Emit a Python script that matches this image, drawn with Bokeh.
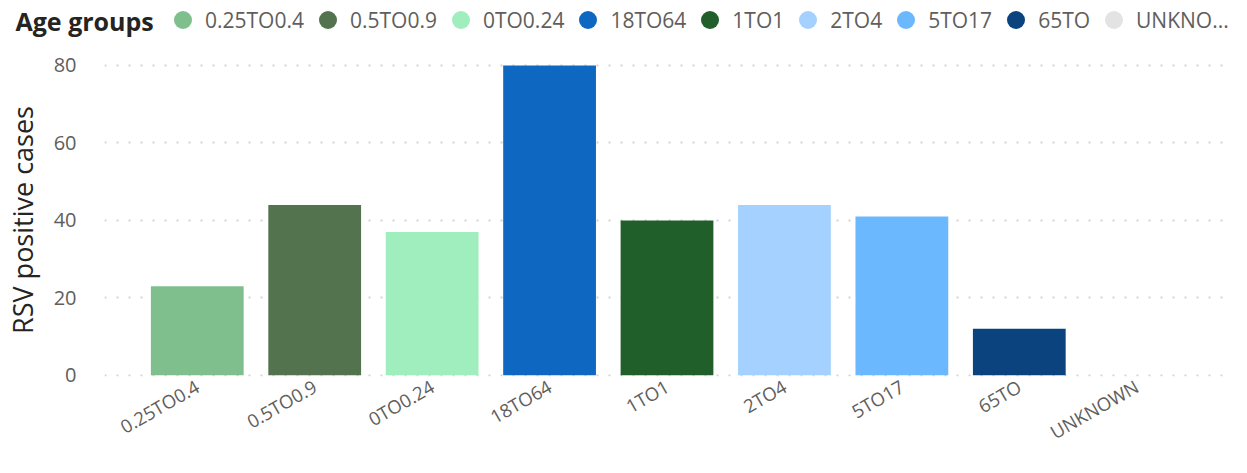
from bokeh.plotting import figure
from bokeh.layouts import column
from bokeh.models import FactorRange, Range1d, ColumnDataSource, Legend, LegendItem, Label
from bokeh.embed import file_html
from bokeh.resources import INLINE

categories = ["0.25TO0.4", "0.5TO0.9", "0TO0.24", "18TO64", "1TO1", "2TO4", "5TO17", "65TO", "UNKNOWN"]
legend_labels = ["0.25TO0.4", "0.5TO0.9", "0TO0.24", "18TO64", "1TO1", "2TO4", "5TO17", "65TO", "UNKNO..."]
cases = [23, 44, 37, 80, 40, 44, 41, 12, 0]
colors = ["#7FBF8E", "#52734E", "#A0EDBE", "#0E68C1", "#215F2A", "#A4D1FF", "#6CB8FF", "#0A437E", "#E3E3E3"]
y_ticks = [0, 20, 40, 60, 80]

FONT = "Open Sans"
GREY = "#605E5C"
DARK = "#252423"

source = ColumnDataSource(dict(cat=categories, val=cases, color=colors, lab=legend_labels))

# ---- legend strip ----
lg = figure(width=1231, height=40, x_range=FactorRange(*categories), y_range=Range1d(0, 100),
            min_border=0, x_axis_location=None, y_axis_location=None,
            output_backend="svg", toolbar_location=None)
lg.outline_line_color = None
lg.grid.grid_line_color = None
sc = lg.scatter(x="cat", y="val", size=0, line_width=0, fill_color="color", line_color="color", source=source)
items = [LegendItem(label=legend_labels[i], renderers=[sc], index=i) for i in range(len(categories))]
legend = Legend(items=items, orientation="horizontal", location=(160, -2),
                border_line_alpha=0, background_fill_alpha=0, padding=0, margin=0,
                label_text_font=FONT, label_text_font_size="21px", label_text_color=GREY,
                glyph_width=45, glyph_height=45, label_standoff=-11, spacing=1)
lg.add_layout(legend)
lg.add_layout(Label(x=15, y=20, x_units="screen", y_units="screen", text="Age groups",
                    text_font=FONT, text_font_size="25px", text_font_style="bold",
                    text_color=DARK, text_baseline="middle"))

# ---- main chart ----
p = figure(width=1231, height=417,
           x_range=FactorRange(*categories, range_padding=0.29, range_padding_units="absolute"),
           y_range=Range1d(-0.3, 80.5),
           min_border_left=99, min_border_right=2, min_border_top=23, min_border_bottom=78,
           output_backend="svg", toolbar_location=None)

p.vbar(x="cat", top="val", width=0.79, fill_color="color", line_color=None, source=source)

p.outline_line_color = None
p.xgrid.grid_line_color = None
p.ygrid.grid_line_color = "#C8C8C8"
p.ygrid.grid_line_dash = "2 10"
p.ygrid.grid_line_width = 2
p.ygrid.grid_line_alpha = 0.8

p.yaxis.ticker = y_ticks
p.yaxis.axis_line_color = None
p.yaxis.major_tick_line_color = None
p.yaxis.minor_tick_line_color = None
p.yaxis.major_label_text_font = FONT
p.yaxis.major_label_text_font_size = "20px"
p.yaxis.major_label_text_color = GREY
p.yaxis.major_label_standoff = 22
p.yaxis.axis_label = "RSV positive cases"
p.yaxis.axis_label_text_font = FONT
p.yaxis.axis_label_text_font_size = "27px"
p.yaxis.axis_label_text_font_style = "normal"
p.yaxis.axis_label_text_color = DARK
p.yaxis.axis_label_standoff = 10

p.xaxis.axis_line_color = None
p.xaxis.major_tick_line_color = None
p.xaxis.major_label_text_font = FONT
p.xaxis.major_label_text_font_size = "18.5px"
p.xaxis.major_label_text_color = GREY
p.xaxis.major_label_orientation = 0.52
p.xaxis.major_label_standoff = 2

if "frame_align" in lg.properties():
    lg.frame_align = False
    p.frame_align = False
    out = column(lg, p)
else:
    out = [lg, p]

open("out.html", "w").write(file_html(out, INLINE))
